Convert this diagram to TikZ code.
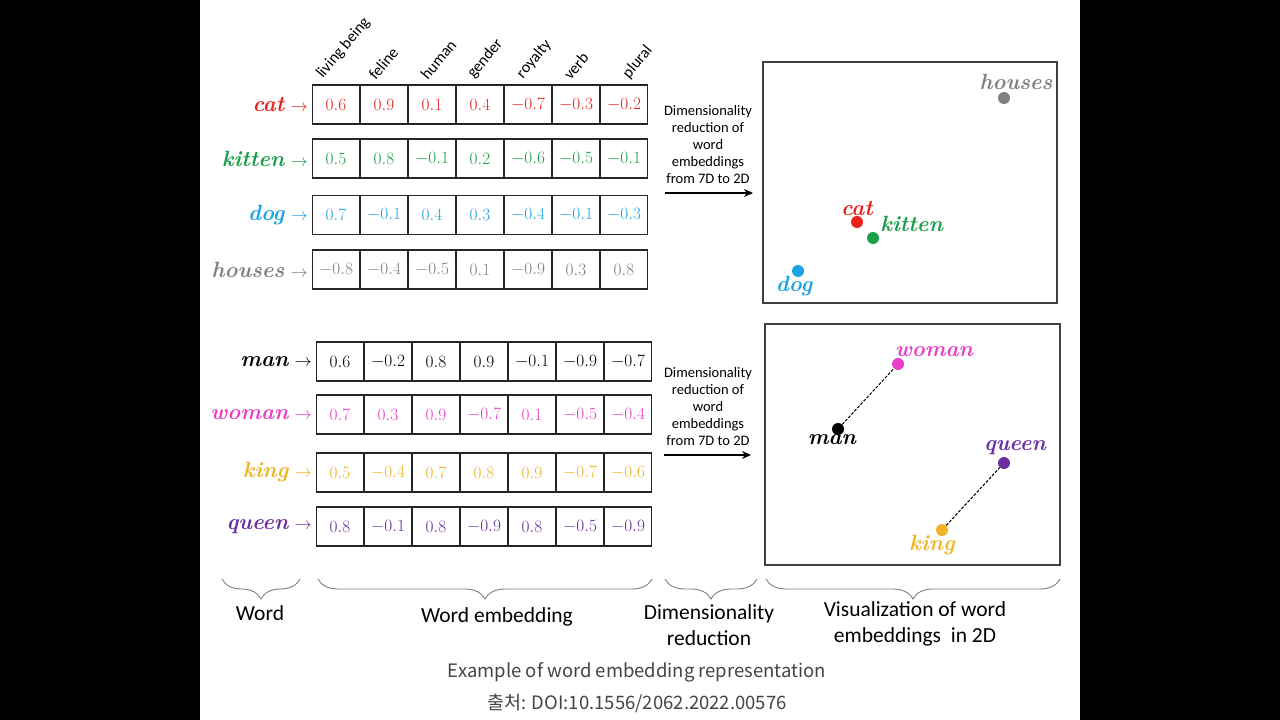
\documentclass[tikz,border=0pt]{standalone}
\usepackage{fontspec}
\newfontfamily\calibri{Carlito}
\newfontfamily\kor{Noto Sans CJK KR}
\usetikzlibrary{positioning,decorations.pathreplacing,arrows.meta}
\definecolor{wred}{HTML}{E8231E}
\definecolor{wgreen}{HTML}{1A9E4A}
\definecolor{wblue}{HTML}{1BA3E2}
\definecolor{wgray}{HTML}{7F7F7F}
\definecolor{wpink}{HTML}{E83EC8}
\definecolor{wgold}{HTML}{F0B424}
\definecolor{wpurple}{HTML}{6B2FA0}
\definecolor{capgray}{HTML}{444444}

\tikzset{
  cell/.style={draw=black!85,line width=1.3pt,minimum width=47pt,
    minimum height=39pt,inner sep=0pt,font=\fontsize{18}{18}\selectfont},
  word/.style={anchor=east,inner sep=0pt,font=\fontsize{22}{22}\selectfont},
  feat/.style={anchor=south west,rotate=50,inner sep=0pt,
    font=\calibri\fontsize{16}{16}\selectfont},
  dot/.style={circle,minimum size=12pt,inner sep=0pt},
  ptlabel/.style={inner sep=1pt,font=\fontsize{22}{22}\selectfont\bfseries\itshape},
  redtext/.style={align=center,font=\calibri\fontsize{14.5}{17}\selectfont},
  redarrow/.style={line width=2pt,-{Stealth[length=9pt,width=8pt]}},
  plotbox/.style={draw=black!75,line width=1.3pt},
  brace/.style={draw=black!50,line width=0.9pt,
    decoration={brace,mirror,amplitude=20pt,aspect=0.5},decorate},
  bottomtext/.style={align=center,font=\calibri\fontsize{21.5}{26}\selectfont},
  caption/.style={text=capgray,font=\kor\fontsize{18.5}{18.5}\selectfont}
}

\newcommand{\wordarrow}{{\fontsize{16}{16}\selectfont$\rightarrow$}}

\begin{document}
\begin{tikzpicture}[x=1pt,y=-1pt]
  \fill[black] (0,0) rectangle (1280,720);
  \fill[white] (200,0) rectangle (1080,720);
  \useasboundingbox (0,0) rectangle (1280,720);

  % feature names
  \foreach \f/\dx [count=\i] in {living being/-11,feline/-8,human/-4,gender/-4,royalty/-3,verb/-5,plural/7}
    \node[feat] (f\i) at (288+48*\i+\dx,81) {\f};

  % word vectors, first group
  \foreach \w/\col/\y/\vals in {
      cat/wred/104.5/{0.6,0.9,0.1,0.4,-0.7,-0.3,-0.2},
      kitten/wgreen/158.5/{0.5,0.8,-0.1,0.2,-0.6,-0.5,-0.1},
      dog/wblue/215/{0.7,-0.1,0.4,0.3,-0.4,-0.1,-0.3},
      houses/wgray/269.5/{-0.8,-0.4,-0.5,0.1,-0.9,0.3,0.8}} {
    \node[word,text=\col] (w-\w) at (308,\y) {{\bfseries\itshape\w}\;\wordarrow};
    \foreach \v [count=\i] in \vals
      \node[cell,text=\col] (c-\w-\i) at (288+48*\i,\y) {$\v$};
  }

  % word vectors, second group
  \foreach \w/\col/\y/\vals in {
      man/black/361.5/{0.6,-0.2,0.8,0.9,-0.1,-0.9,-0.7},
      woman/wpink/414.5/{0.7,0.3,0.9,-0.7,0.1,-0.5,-0.4},
      king/wgold/472.5/{0.5,-0.4,0.7,0.8,0.9,-0.7,-0.6},
      queen/wpurple/526.5/{0.8,-0.1,0.8,-0.9,0.8,-0.5,-0.9}} {
    \node[word,text=\col] (w-\w) at (312,\y) {{\bfseries\itshape\w}\;\wordarrow};
    \foreach \v [count=\i] in \vals
      \node[cell,text=\col] (c-\w-\i) at (292+48*\i,\y) {$\v$};
  }

  % reduction arrows
  \node[redtext] (r1) at (708,145) {Dimensionality\\reduction of\\word\\embeddings\\from 7D to 2D};
  \coordinate (r1s) at (665,193);
  \coordinate (r1e) at (753,193);
  \draw[redarrow] (r1s) -- (r1e);
  \node[redtext] (r2) at (708,407) {Dimensionality\\reduction of\\word\\embeddings\\from 7D to 2D};
  \coordinate (r2s) at (664,455);
  \coordinate (r2e) at (751,455);
  \draw[redarrow] (r2s) -- (r2e);

  % 2D plots
  \draw[plotbox] (763,62) rectangle (1057,303);
  \draw[plotbox] (765,324) rectangle (1060,565);

  \node[dot,fill=wgray] (p-houses) at (1004,98) {};
  \node[ptlabel,text=wgray,above=1pt of p-houses,xshift=12pt] (l-houses) {houses};
  \node[dot,fill=wred] (p-cat) at (857,222) {};
  \node[ptlabel,text=wred,above=-1pt of p-cat] (l-cat) {cat};
  \node[dot,fill=wgreen] (p-kitten) at (873,238) {};
  \node[ptlabel,text=wgreen,right=0pt of p-kitten,yshift=14pt] (l-kitten) {kitten};
  \node[dot,fill=wblue] (p-dog) at (798,271) {};
  \node[ptlabel,text=wblue,below=-2pt of p-dog,xshift=-4pt] (l-dog) {dog};

  \node[dot,fill=wpink] (p-woman) at (898,364) {};
  \node[ptlabel,text=wpink,above=0pt of p-woman,xshift=36pt] (l-woman) {woman};
  \node[dot,fill=black] (p-man) at (838,429) {};
  \node[ptlabel,text=black,below=-2pt of p-man,xshift=-6pt] (l-man) {man};
  \node[dot,fill=wpurple] (p-queen) at (1004,463) {};
  \node[ptlabel,text=wpurple,above=1pt of p-queen,xshift=11pt] (l-queen) {queen};
  \node[dot,fill=wgold] (p-king) at (942,530) {};
  \node[ptlabel,text=wgold,below=-2pt of p-king,xshift=-10pt] (l-king) {king};

  \draw[dash pattern=on 3pt off 1.5pt,line width=1pt] (p-man) -- (p-woman);
  \draw[dash pattern=on 3pt off 1.5pt,line width=1pt] (p-king) -- (p-queen);

  % braces and their captions
  \coordinate (b1l) at (222,579); \coordinate (b1r) at (300,579);
  \coordinate (b2l) at (318,579); \coordinate (b2r) at (652,579);
  \coordinate (b3l) at (665,579); \coordinate (b3r) at (757,579);
  \coordinate (b4l) at (766,579); \coordinate (b4r) at (1060,579);
  \draw[brace] (b1l) -- (b1r);
  \draw[brace] (b2l) -- (b2r);
  \draw[brace] (b3l) -- (b3r);
  \draw[brace] (b4l) -- (b4r);
  \node[bottomtext] (t1) at (260,613) {Word};
  \node[bottomtext] (t2) at (497,617) {Word embedding};
  \node[bottomtext] (t3) at (709,625) {Dimensionality\\reduction};
  \node[bottomtext] (t4) at (915,624) {Visualization of word\\embeddings\ \ in 2D};

  \node[caption] (cap1) at (637,672) {Example of word embedding representation};
  \node[caption] (cap2) at (637,703) {출처: DOI:10.1556/2062.2022.00576};
\end{tikzpicture}
\end{document}
